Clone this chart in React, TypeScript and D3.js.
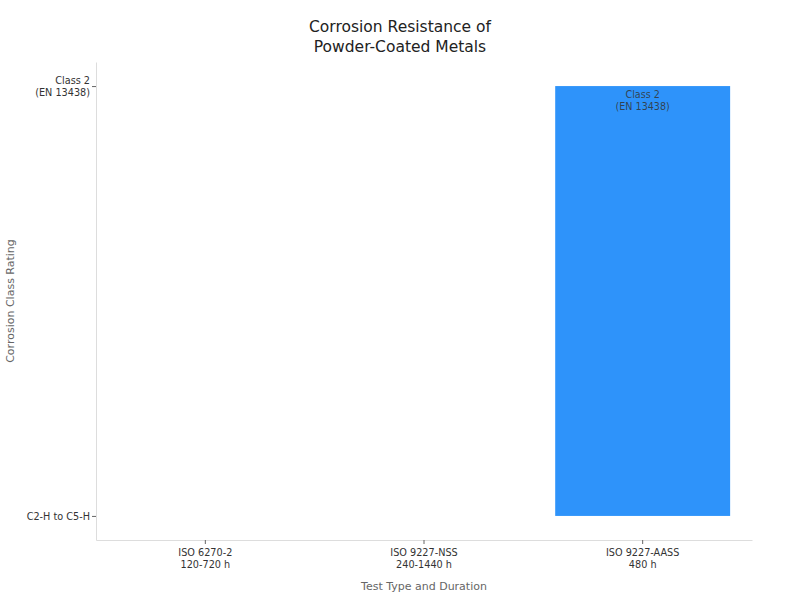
import React, { useRef, useEffect } from "react";
import * as d3 from "d3";

// test types (x) and the corrosion class reached (y, categorical)
const tests = ["ISO 6270-2\n120-720 h", "ISO 9227-NSS\n240-1440 h", "ISO 9227-AASS\n480 h"];
const classes = ["C2-H to C5-H", "Class 2\n(EN 13438)"];
const ratings = ["C2-H to C5-H", "C2-H to C5-H", "Class 2\n(EN 13438)"];

const FONT = "DejaVu Sans, sans-serif";

const App = () => {
  const ref = useRef<SVGSVGElement>(null);

  useEffect(() => {
    if (!ref.current) return;
    const W = 800;
    const H = 600;
    const margin = { top: 62, right: 48, bottom: 60, left: 96 };
    const width = W - margin.left - margin.right;
    const height = H - margin.top - margin.bottom;

    const svg = d3.select(ref.current);
    svg.selectAll("*").remove();

    const g = svg.append("g").attr("transform", `translate(${margin.left},${margin.top})`);

    const x = d3.scaleBand().domain(tests).range([0, width]).paddingInner(0.2).paddingOuter(0.1);
    const y = d3.scalePoint().domain(classes).range([height, 0]).padding(0.056);

    const multiline = (sel: any, dy0: number, lh = 1.2) => {
      sel.each(function (this: any) {
        const t = d3.select(this);
        const lines = t.text().split("\n");
        t.text(null);
        lines.forEach((l: string, i: number) => {
          t.append("tspan")
            .attr("x", t.attr("x") || 0)
            .attr("dy", i === 0 ? dy0 + "em" : lh + "em")
            .text(l);
        });
      });
    };

    const rows = ratings.map((r, i) => ({ test: tests[i], rating: r }));

    // bars
    g.selectAll("rect.bar")
      .data(rows)
      .join("rect")
      .attr("class", "bar")
      .attr("x", (d) => x(d.test)!)
      .attr("width", x.bandwidth())
      .attr("y", (d) => y(d.rating)!)
      .attr("height", (d) => y(classes[0])! - y(d.rating)!)
      .attr("fill", "#2e93fa");

    // labels inside the bars
    g.selectAll("text.lbl")
      .data(rows.filter((d) => d.rating !== classes[0]))
      .join("text")
      .attr("class", "lbl")
      .attr("x", (d) => x(d.test)! + x.bandwidth() / 2)
      .attr("y", (d) => y(d.rating)! + 4)
      .attr("text-anchor", "middle")
      .attr("font-family", FONT)
      .attr("font-size", 9.6)
      .attr("fill", "#333")
      .attr("fill-opacity", 0.85)
      .text((d) => d.rating)
      .call(multiline, 0.8, 1.25);

    // x axis
    const xAxis = g
      .append("g")
      .attr("transform", `translate(0,${height})`)
      .call(d3.axisBottom(x).tickSize(4).tickSizeOuter(0));
    xAxis.select(".domain").attr("stroke", "#ddd");
    xAxis.selectAll(".tick line").attr("stroke", "#666");
    xAxis
      .selectAll(".tick text")
      .attr("font-family", FONT)
      .attr("font-size", 9.7)
      .attr("fill", "#333")
      .attr("y", 9)
      .call(multiline, 0.71, 1.3);

    // y axis
    const yAxis = g.append("g").call(d3.axisLeft(y).tickSize(4).tickSizeOuter(0));
    yAxis.select(".domain").attr("stroke", "#ddd");
    yAxis.selectAll(".tick line").attr("stroke", "#666");
    yAxis
      .selectAll(".tick text")
      .attr("font-family", FONT)
      .attr("font-size", 9.7)
      .attr("fill", "#333")
      .attr("x", -6)
      .each(function (this: any) {
        const t = d3.select(this);
        const lines = t.text().split("\n");
        t.text(null);
        const off = -(lines.length - 1) * 0.62;
        lines.forEach((l: string, i: number) => {
          t.append("tspan")
            .attr("x", -6)
            .attr("dy", i === 0 ? off + 0.32 + "em" : "1.25em")
            .text(l);
        });
      });

    // titles
    svg
      .append("text")
      .attr("x", W / 2)
      .attr("y", 32)
      .attr("text-anchor", "middle")
      .attr("font-family", FONT)
      .attr("font-size", 15.5)
      .attr("fill", "#222")
      .text("Corrosion Resistance of\nPowder-Coated Metals")
      .call(multiline, 0, 1.3);

    svg
      .append("text")
      .attr("x", margin.left + width / 2)
      .attr("y", 590)
      .attr("text-anchor", "middle")
      .attr("font-family", FONT)
      .attr("font-size", 11)
      .attr("fill", "#666")
      .text("Test Type and Duration");

    svg
      .append("text")
      .attr("transform", `translate(14,${margin.top + height / 2}) rotate(-90)`)
      .attr("text-anchor", "middle")
      .attr("font-family", FONT)
      .attr("font-size", 11)
      .attr("fill", "#666")
      .text("Corrosion Class Rating");
  }, []);

  return (
    <svg
      ref={ref}
      width={800}
      height={600}
      style={{ display: "block", position: "absolute", left: 0, top: 0 }}
    />
  );
};

export default App;
